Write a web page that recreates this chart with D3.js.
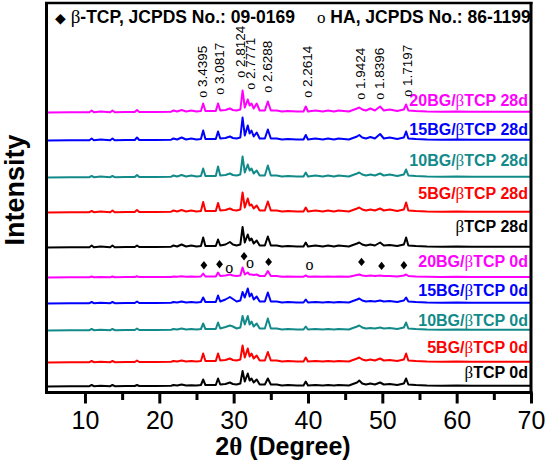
<!DOCTYPE html>
<html><head><meta charset="utf-8">
<script src="https://cdn.jsdelivr.net/npm/d3@7"></script>
<style>body{margin:0;background:#fff}svg{display:block}</style>
</head><body>
<svg id="c" width="548" height="463"></svg>
<script>
// ---------- DATA ----------
const twoTheta = [5, 8, 10.6, 10.9, 11.2, 12.1, 13.4, 13.7, 14.0, 15.5, 16.7, 17.0, 17.3, 19.5, 21.6, 21.9, 22.4, 23.0, 23.6, 24.3, 25.0, 25.6, 25.9, 26.2, 26.8, 27.6, 27.9, 28.2, 28.9, 29.5, 29.9, 30.4, 30.9, 31.2, 31.5, 31.9, 32.15, 32.4, 32.7, 33.1, 33.5, 34.2, 34.6, 35.0, 35.8, 36.5, 37.3, 38.5, 39.4, 39.7, 40.0, 41.0, 42.0, 42.7, 43.5, 44.1, 45.5, 46.6, 46.9, 47.3, 47.8, 48.4, 49.0, 49.7, 50.2, 51.0, 52.0, 52.9, 53.2, 53.5, 54.5, 56, 58, 60, 62, 64, 66, 68, 70];

const seriesNames = ["βTCP 0d", "5BG/βTCP 0d", "10BG/βTCP 0d", "15BG/βTCP 0d", "20BG/βTCP 0d",
                     "βTCP 28d", "5BG/βTCP 28d", "10BG/βTCP 28d", "15BG/βTCP 28d", "20BG/βTCP 28d"];
const seriesOffsets = [6, 30, 62, 89, 115, 145, 180, 215, 252, 280];

const I_bTCP_0d = [0,0.3,0.3,1.5,0.3, 0.8,0.3,1.5,0.3,0.5, 0.5,1.5,0.5,0.5,0.8, 1.5,1,2,1,1.2, 1,1.5,7,1.5,1.5, 1.5,8,2,2.5,4, 2.5,2,3,15.5,5, 13,6,8,4,7, 2,2,8,2,2, 1,1.5,1,1,5, 1,1.5,1,1.5,1, 1.5,1,4,6,3, 2,3,2,4,2, 2.5,1.5,3,8,2, 1.5,1,0.8,1,0.8, 0.8,0.8,0.8,0.8];
const I_5BG_0d = [0,0.3,0.3,1.5,0.3, 0.8,0.3,1.5,0.3,0.5, 0.5,2,0.5,0.5,0.8, 1.5,1,2,1,1.5, 1,1.5,9,1.5,1.5, 1.5,9,2,2.5,4, 2.5,2,3,17,5, 14,6,9,4,7, 2,2,10.5,2,2, 1,1.5,1,1,5, 1,1.5,1,1.5,1, 1.5,1,4,5,3, 2,3,2,4,2, 2.5,1.5,3,9,2, 1.5,1,0.8,1,0.8, 0.8,0.8,0.8,0.8];
const I_10BG_0d = [0,0.3,0.3,1.5,0.3, 0.8,0.3,1.5,0.3,0.5, 0.5,2,0.5,0.5,0.8, 1.5,1,2,1,1.5, 1,1.5,7,1.5,1.5, 1.5,8,2,3.5,5, 4,2,3,14.5,6, 14.5,6,9,4,7, 2,2,12,2,2, 1,1.5,1,1,4, 1,1.5,1,1.5,1, 1.5,1,4,5,3, 2,2.5,2,3,2, 2.5,1.5,3,8,2, 1.5,1,0.8,1,0.8, 0.8,0.8,0.8,0.8];
const I_15BG_0d = [0,0.3,0.3,1.5,0.3, 0.8,0.3,1.5,0.3,0.5, 0.5,2,0.5,0.5,0.8, 1.5,1,2,1,1.5, 1,1.5,6,1.5,1.5, 1.5,8,2,4,6.5, 4.5,2,3,11.5,6, 15,7,10,4,7, 2,2,11,2,2, 1,1.5,1,1,4, 1,1.5,1,1.5,1, 1.5,1,4,5,3, 2,2.5,2,3,2, 2.5,1.5,3,6,2, 1.5,1,0.8,1,0.8, 0.8,0.8,0.8,0.8];
const I_20BG_0d = [0,0.3,0.3,1,0.3, 0.6,0.3,1,0.3,0.4, 0.4,1.2,0.4,0.4,0.6, 1,0.8,1.2,0.8,1, 0.8,1,4,1,1, 1,5,1.5,2,3, 2,1.5,2,10,3, 5,3,3,2.5,3, 1.5,1.5,6.5,1.5,1.5, 0.8,1,0.8,0.8,2, 0.8,1,0.8,1,0.8, 1,0.8,2.5,3,2, 1.5,2,1.5,2,1.5, 1.5,1,2,3,1.5, 1,0.8,0.6,0.8,0.6, 0.6,0.6,0.6,0.6];
const I_bTCP_28d = [0,0.3,0.3,2,0.3, 1,0.3,2,0.3,0.5, 0.5,2,0.5,0.5,0.8, 2,1,3,1,2, 1,1.5,10,1.5,1.5, 1.5,8,2,3,5.5, 3,2,3,20.5,5, 13,7,9,4,7, 2,2,11,2,2, 1,1.5,1,1,5, 1,2,1,2,1, 2,1,4,5,3, 2,3,2,5,2, 2.5,1.5,3,10,2, 1.5,1,0.8,1,0.8, 0.8,0.8,0.8,0.8];
const I_5BG_28d = [0,0.3,0.3,1.5,0.3, 1,0.3,2,0.3,0.5, 0.5,2.5,0.5,0.5,0.8, 2,1,2.5,1,2, 1,1.5,10.5,1.5,1.5, 1.5,9.5,2,2.5,4, 2.5,2,3,20,5, 14,7,8,4,7, 2,2,11,2,2, 1,1.5,1,1,5, 1,2,1,2,1, 2,1,4,5,3, 2,3,2,4,2, 3,1.5,3,10,2, 1.5,1,0.8,1,0.8, 0.8,0.8,0.8,0.8];
const I_10BG_28d = [0,0.3,0.3,1.5,0.3, 1,0.3,1.5,0.3,0.5, 0.5,2.5,0.5,0.5,0.8, 2,1,2.5,1,2, 1,1.5,9,1.5,1.5, 1.5,11,2,2.5,4, 2.5,2,3,21,5, 13,7,9,4,7, 2,2,12,2,2, 1,1.5,1,1,5, 1,2,1,2,1, 2,1,4,5,3, 2,3,2,4,2, 3,1.5,3,8,2, 1.5,1,0.8,1,0.8, 0.8,0.8,0.8,0.8];
const I_15BG_28d = [0,0.3,0.3,2,0.3, 1,0.3,2,0.3,0.5, 0.5,3,0.5,0.5,0.8, 2,1,3,1,2, 1,1.5,10,1.5,1.5, 1.5,9,2,2.5,4, 2.5,2,3,23,5, 15,7,10,4,8, 2,2,11,2,2, 1,1.5,1,1,5.5, 1,2,1,2,1, 2,1,4,5.5,3, 2,3.5,2,6.5,2, 3,1.5,3,9,2, 1.5,1,0.8,1,0.8, 0.8,0.8,0.8,0.8];
const I_20BG_28d = [0,0.3,0.3,2,0.3, 1,0.3,2,0.3,0.5, 0.5,2.5,0.5,0.5,0.8, 2,1,2.5,1,2, 1,1.5,9,1.5,1.5, 1.5,9,2,2.5,4, 2.5,2,3,22,5, 13,7,9,4,9, 2,2,11,2,2, 1,1.5,1,1,6, 1,2,1,2,1, 2,1,4,5,3, 2,4,2,6,2, 3,1.5,3,8,2, 1.5,1,0.8,1,0.8, 0.8,0.8,0.8,0.8];

const seriesIntensity = [I_bTCP_0d, I_5BG_0d, I_10BG_0d, I_15BG_0d, I_20BG_0d,
                         I_bTCP_28d, I_5BG_28d, I_10BG_28d, I_15BG_28d, I_20BG_28d];

const xTicks = [10, 20, 30, 40, 50, 60, 70];
const xMinorTicks = [15, 25, 35, 45, 55, 65];

// d-spacing annotations (HA) above 20BG/βTCP 28d
const dLabels = ["3.4395", "3.0817", "2.8124", "2.7771", "2.6288", "2.2614", "1.9424", "1.8396", "1.7197"];
const dTheta  = [25.8, 28.05, 30.9, 32.2, 34.5, 39.95, 47.1, 49.6, 53.3];

// phase markers above 20BG/βTCP 0d  (D = β-TCP, O = HA)
const markerTheta = [26.0, 28.1, 29.4, 31.4, 32.2, 34.7, 40.2, 47.2, 49.9, 52.9];
const markerType  = ["D", "D", "O", "D", "O", "D", "O", "D", "D", "D"];

// ---------- STYLE / LAYOUT ----------
const seriesColors = ["#000000", "#ff0000", "#138a8a", "#0000ff", "#ff00ff",
                      "#000000", "#ff0000", "#138a8a", "#0000ff", "#ff00ff"];
const labelLift = [9, 10, 5, 8, 11, 16, 14, 12, 5.5, 7];
const dLift = [14.7, 17.7, 34.7, 22.7, 19.7, 14.7, 12.7, 12.7, 15.7];
const markerLift = [12.3, 13.3, 9.8, 21.3, 14, 15.6, 12.3, 15.6, 11.6, 12.3];

const svg = d3.select("#c");
const sans = "'Liberation Sans', Arial, sans-serif";
const serif = "'Liberation Serif', 'Times New Roman', serif";

const x = d3.scaleLinear().domain([5, 70]).range([47.8, 531]);
const y = d3.scaleLinear().domain([0, 390]).range([392.5, 2.5]);

// series lines
const line = d3.line().x(d => x(d[0])).y(d => y(d[1]));
seriesIntensity.forEach((arr, i) => {
  const pts = twoTheta.map((t, k) => [t, seriesOffsets[i] + arr[k]]);
  svg.append("path").attr("d", line(pts)).attr("fill", "none")
     .attr("stroke", seriesColors[i]).attr("stroke-width", 2)
     .attr("stroke-linejoin", "round");
});

// series labels
seriesNames.forEach((name, i) => {
  const t = svg.append("text").attr("x", 528)
    .attr("y", y(seriesOffsets[i]) - labelLift[i])
    .attr("text-anchor", "end").attr("fill", seriesColors[i])
    .style("font-family", sans).style("font-weight", "bold").style("font-size", "16px");
  const parts = name.split("β");
  t.append("tspan").text(parts[0]);
  t.append("tspan").text("β").style("font-family", serif).style("font-weight", "normal").style("font-size", "17px");
  t.append("tspan").text(parts[1]);
});

// d-spacing annotations
const topBase = seriesOffsets[9];
dLabels.forEach((lab, i) => {
  const px = x(dTheta[i]), py = y(topBase + dLift[i]);
  const t = svg.append("text").attr("transform", `translate(${px},${py}) rotate(-90)`)
    .attr("dy", "0.35em").style("font-family", sans).style("font-size", "13.5px").attr("fill", "#000");
  t.append("tspan").text("o").style("font-family", serif).style("font-size", "14px");
  t.append("tspan").text(" " + lab);
});

// phase markers
const mBase = seriesOffsets[4];
markerTheta.forEach((th, i) => {
  const px = x(th), py = y(mBase + markerLift[i]);
  if (markerType[i] === "D") {
    svg.append("path").attr("d", `M${px},${py - 4.2}L${px + 3.4},${py}L${px},${py + 4.2}L${px - 3.4},${py}Z`).attr("fill", "#000");
  } else {
    svg.append("text").attr("x", px).attr("y", py).attr("dy", "0.3em").attr("text-anchor", "middle")
      .style("font-family", serif).style("font-size", "16px").text("o");
  }
});

// frame
svg.append("line").attr("x1", 46.5).attr("x2", 46.5).attr("y1", 2).attr("y2", 394).attr("stroke", "#000").attr("stroke-width", 3);
svg.append("line").attr("x1", 45).attr("x2", 532.5).attr("y1", 3).attr("y2", 3).attr("stroke", "#000").attr("stroke-width", 2.5);
svg.append("line").attr("x1", 531).attr("x2", 531).attr("y1", 2).attr("y2", 394).attr("stroke", "#000").attr("stroke-width", 3);
svg.append("line").attr("x1", 45).attr("x2", 532.5).attr("y1", 392.5).attr("y2", 392.5).attr("stroke", "#000").attr("stroke-width", 3);

// x axis
const gx = svg.append("g").attr("transform", "translate(0,392.5)")
  .call(d3.axisBottom(x).tickValues(xTicks).tickSize(11).tickPadding(8).tickFormat(d3.format("d")));
gx.select(".domain").remove();
gx.selectAll("line").attr("stroke-width", 3);
gx.selectAll("text").style("font-family", sans).style("font-size", "25px");
const gm = svg.append("g").attr("transform", "translate(0,392.5)")
  .call(d3.axisBottom(x).tickValues(xMinorTicks).tickSize(7.5).tickFormat(""));
gm.select(".domain").remove();
gm.selectAll("line").attr("stroke-width", 3);

// axis titles
const xt = svg.append("text").attr("x", 283).attr("y", 455).attr("text-anchor", "middle")
  .style("font-family", sans).style("font-weight", "bold").style("font-size", "25px");
xt.append("tspan").text("2");
xt.append("tspan").text("θ").style("font-family", serif);
xt.append("tspan").text(" (Degree)");

svg.append("text").attr("transform", "translate(24,190) rotate(-90)").attr("text-anchor", "middle")
  .style("font-family", sans).style("font-weight", "bold").style("font-size", "27px").text("Intensity");

// legend
const l1 = svg.append("text").attr("x", 55).attr("y", 23)
  .style("font-family", sans).style("font-weight", "bold").style("font-size", "17.5px");
l1.append("tspan").text("◆").style("font-family", "'DejaVu Sans'").style("font-size", "14px");
l1.append("tspan").text(" ");
l1.append("tspan").text("β").style("font-family", serif).style("font-weight", "normal").style("font-size", "19px");
l1.append("tspan").text("-TCP, JCPDS No.: 09-0169");
const l2 = svg.append("text").attr("x", 317).attr("y", 23)
  .style("font-family", sans).style("font-weight", "bold").style("font-size", "17.5px");
l2.append("tspan").text("o").style("font-family", serif).style("font-weight", "normal").style("font-size", "17px");
l2.append("tspan").text(" HA, JCPDS No.: 86-1199");
</script>
</body></html>
